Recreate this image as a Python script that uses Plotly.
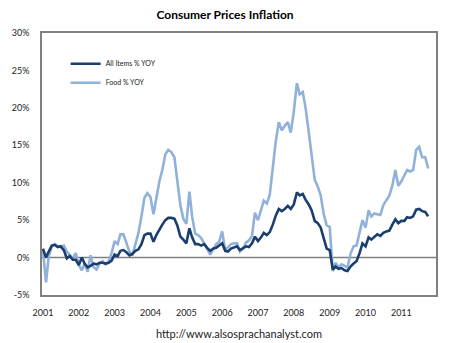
import pandas as pd
import plotly.graph_objects as go

# Monthly data, Jan 2001 - Oct 2011
months = pd.date_range("2001-01-01", periods=130, freq="MS")

all_items = [
    # 2001
    1.2, 0.0, 0.8, 1.6, 1.7, 1.4, 1.5, 1.0, -0.1, 0.2, -0.3, -0.3,
    # 2002
    -1.0, 0.0, -0.8, -1.3, -1.1, -0.8, -0.9, -0.7, -0.7, -0.8, -0.7, -0.4,
    # 2003
    0.4, 0.2, 0.9, 1.0, 0.7, 0.3, 0.5, 0.9, 1.1, 1.8, 3.0, 3.2,
    # 2004
    3.2, 2.1, 3.0, 3.8, 4.4, 5.0, 5.3, 5.3, 5.2, 4.3, 2.8, 2.4,
    # 2005
    1.9, 3.9, 2.7, 1.8, 1.8, 1.6, 1.8, 1.3, 0.9, 1.2, 1.3, 1.6,
    # 2006
    1.9, 0.9, 0.8, 1.2, 1.4, 1.5, 1.0, 1.3, 1.5, 1.4, 1.9, 2.8,
    # 2007
    2.2, 2.7, 3.3, 3.0, 3.4, 4.4, 5.6, 6.5, 6.2, 6.5, 6.9, 6.5,
    # 2008
    7.1, 8.7, 8.3, 8.5, 7.7, 7.1, 6.3, 4.9, 4.6, 4.0, 2.4, 1.2,
    # 2009
    1.0, -1.6, -1.2, -1.5, -1.4, -1.7, -1.8, -1.2, -0.8, -0.5, 0.6, 1.9,
    # 2010
    1.5, 2.7, 2.4, 2.8, 3.1, 2.9, 3.3, 3.5, 3.6, 4.4, 5.1, 4.6,
    # 2011
    4.9, 4.9, 5.4, 5.3, 5.5, 6.4, 6.5, 6.2, 6.1, 5.5,
]

food = [
    # 2001
    1.0, -3.3, 0.2, 1.5, 1.8, 1.5, 1.4, 1.6, 0.8, 0.3, -0.1, 0.6,
    # 2002
    -1.0, -1.7, -0.8, -1.9, 0.3, -1.3, -1.6, -0.8, -0.5, -0.9, -0.5, 0.6,
    # 2003
    2.2, 1.8, 3.1, 3.1, 2.0, 0.8, 0.3, 1.8, 3.3, 5.5, 8.0, 8.6,
    # 2004
    8.1, 5.8, 8.2, 10.2, 11.7, 13.8, 14.4, 14.1, 13.4, 10.5, 7.0, 5.2,
    # 2005
    4.5, 8.8, 5.5, 3.2, 3.0, 2.6, 2.0, 1.2, 0.4, 1.0, 1.8, 2.1,
    # 2006
    3.5, 1.0, 1.4, 1.8, 1.9, 1.9, 0.8, 1.2, 2.0, 2.3, 2.9, 6.0,
    # 2007
    5.0, 6.3, 7.6, 7.2, 8.4, 12.0, 15.5, 18.1, 17.0, 17.6, 18.1, 16.7,
    # 2008
    19.5, 23.3, 21.8, 22.1, 19.9, 16.8, 13.8, 10.4, 9.5, 8.3, 5.8, 4.3,
    # 2009
    4.1, -1.8, -0.7, -1.3, -0.9, -1.1, -1.3, 0.5, 1.5, 1.6, 3.2, 5.0,
    # 2010
    4.0, 6.3, 5.5, 5.9, 5.8, 5.7, 7.0, 7.7, 8.3, 9.6, 11.7, 9.6,
    # 2011
    10.2, 11.0, 11.7, 11.5, 11.7, 14.4, 14.8, 13.4, 13.4, 11.9,
]

year_ticks = [f"{y}-01-01" for y in range(2001, 2012)]
year_labels = [str(y) for y in range(2001, 2012)]
y_ticks = [-5, 0, 5, 10, 15, 20, 25, 30]
y_labels = [f"{v}%" for v in y_ticks]

DARK = "#1a3e6e"
LIGHT = "#8fb1da"
AXIS = "#808080"
FONT = "Lato, 'Open Sans', sans-serif"

fig = go.Figure()
fig.add_trace(go.Scatter(x=months, y=food, mode="lines", name="Food % YOY",
                         line=dict(color=LIGHT, width=2.6), legendgroup="b"))
fig.add_trace(go.Scatter(x=months, y=all_items, mode="lines", name="All Items % YOY",
                         line=dict(color=DARK, width=2.6), legendgroup="a"))

fig.add_hline(y=0, line=dict(color=AXIS, width=1.5), layer="below")

fig.update_layout(
    width=450, height=343,
    margin=dict(l=32, r=13, t=33, b=48),
    paper_bgcolor="white", plot_bgcolor="white",
    font=dict(family=FONT, size=9, color="#222"),
    title=dict(text="<b>Consumer Prices Inflation</b>", x=0.5, xanchor="center",
               y=1 - 15 / 343, yanchor="middle", yref="container",
               font=dict(family=FONT, size=12, color="#000")),
    showlegend=True,
    legend=dict(x=0.06, y=0.938, xanchor="left", yanchor="top",
                bgcolor="rgba(0,0,0,0)", font=dict(size=7, color="#222"),
                itemwidth=30, tracegroupgap=5, traceorder="reversed"),
    xaxis=dict(range=["2000-12-22", "2011-12-20"], tickmode="array",
               tickvals=year_ticks, ticktext=year_labels, showgrid=False,
               showline=True, linecolor=AXIS, linewidth=1.5, mirror=True,
               ticks="", zeroline=False, ticklabelstandoff=8,
               tickfont=dict(size=9, color="#222")),
    yaxis=dict(range=[-5, 30], tickmode="array", tickvals=y_ticks, ticktext=y_labels,
               showgrid=False, showline=True, linecolor=AXIS, linewidth=1.5,
               mirror=True, ticks="", zeroline=False, ticklabelstandoff=9,
               tickfont=dict(size=9, color="#222")),
    annotations=[dict(text="http://www.alsosprachanalyst.com", xref="paper", yref="paper",
                      x=0.5, y=-(333 - 295) / 262, xanchor="center", yanchor="middle",
                      showarrow=False, font=dict(family=FONT, size=11, color="#222"))],
)

fig.write_html("out.html")
